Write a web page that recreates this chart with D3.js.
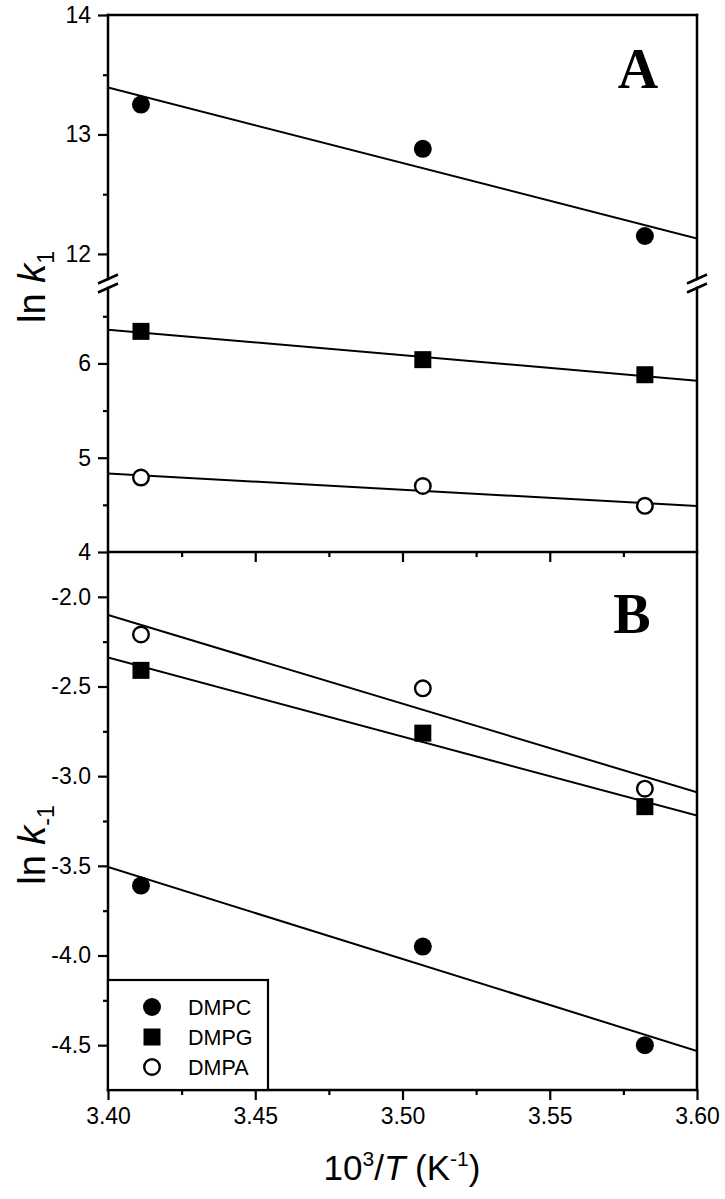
<!DOCTYPE html>
<html>
<head>
<meta charset="utf-8">
<script src="https://cdn.jsdelivr.net/npm/d3@7/dist/d3.min.js"></script>
<style>
  html, body { margin: 0; padding: 0; background: #fff; }
  svg { display: block; }
  text { fill: #000; }
</style>
</head>
<body>
<svg id="chart" width="725" height="1199"></svg>
<script>
// ---------------- data ----------------
const invT = [3.4112, 3.5069, 3.5823];            // 10^3/T (K^-1)
const seriesNames = ["DMPC", "DMPG", "DMPA"];
const lnk1_DMPC = [13.25, 12.88, 12.15];
const lnk1_DMPG = [6.34, 6.04, 5.88];
const lnk1_DMPA = [4.79, 4.70, 4.49];
const lnkm1_DMPC = [-3.61, -3.95, -4.50];
const lnkm1_DMPG = [-2.41, -2.76, -3.17];
const lnkm1_DMPA = [-2.21, -2.51, -3.07];

const xTickValues = [3.40, 3.45, 3.50, 3.55, 3.60];
const xMinorValues = [3.425, 3.475, 3.525, 3.575];
const yTicksAUpper = [12, 13, 14];
const yMinorAUpper = [12.5, 13.5];
const yTicksALower = [4, 5, 6];
const yMinorALower = [4.5, 5.5, 6.5];
const yTicksB = [-2.0, -2.5, -3.0, -3.5, -4.0, -4.5];
const yMinorB = [-2.25, -2.75, -3.25, -3.75, -4.25];

// ---------------- layout ----------------
const L = 108, R = 697;
const topA = 15, botA = 552, botB = 1090;
const breakUpper = 279, breakLower = 288;

const svg = d3.select("#chart");
const x = d3.scaleLinear().domain([3.40, 3.60]).range([L, R]);
const yAU = d3.scaleLinear().domain([11.79, 14]).range([breakUpper, topA]);
const yAL = d3.scaleLinear().domain([4, 6.8]).range([botA, breakLower]);
const yB = d3.scaleLinear().domain([-4.75, -1.75]).range([botB, botA]);

const FONT = "'Liberation Sans', Arial, Helvetica, sans-serif";
const AXW = 2.5, TICKW = 2.2, TICKFS = 23;
const hyph = f => v => f(v).replace("\u2212", "-");

// clip paths
const defs = svg.append("defs");
function clip(id, y0, y1) {
  defs.append("clipPath").attr("id", id).append("rect")
    .attr("x", L).attr("y", y0).attr("width", R - L).attr("height", y1 - y0);
}
clip("cAU", topA, breakUpper);
clip("cAL", breakLower, botA);
clip("cB", botA, botB);

// ---------------- axes ----------------
function styleAxis(g, fs) {
  g.select(".domain").remove();
  g.selectAll("line").attr("stroke", "#000").attr("stroke-width", TICKW);
  g.selectAll("text").attr("font-family", FONT).attr("font-size", fs).attr("fill", "#000");
}
function leftAxis(scale, major, minor, fmt) {
  svg.append("g").attr("transform", `translate(${L},0)`)
    .call(d3.axisLeft(scale).tickValues(major).tickSize(10).tickSizeOuter(0).tickPadding(7).tickFormat(fmt))
    .call(g => styleAxis(g, TICKFS));
  svg.append("g").attr("transform", `translate(${L},0)`)
    .call(d3.axisLeft(scale).tickValues(minor).tickSize(5).tickSizeOuter(0).tickFormat(""))
    .call(g => styleAxis(g, TICKFS));
}
leftAxis(yAU, yTicksAUpper, yMinorAUpper, hyph(d3.format("d")));
leftAxis(yAL, yTicksALower, yMinorALower, hyph(d3.format("d")));
leftAxis(yB, yTicksB, yMinorB, hyph(d3.format(".1f")));

// x axis of panel A (ticks only)
svg.append("g").attr("transform", `translate(0,${botA})`)
  .call(d3.axisBottom(x).tickValues(xTickValues.slice(1, -1)).tickSize(10).tickSizeOuter(0).tickFormat(""))
  .call(g => styleAxis(g, TICKFS));
svg.append("g").attr("transform", `translate(0,${botA})`)
  .call(d3.axisBottom(x).tickValues(xMinorValues).tickSize(5).tickSizeOuter(0).tickFormat(""))
  .call(g => styleAxis(g, TICKFS));
// x axis of panel B
svg.append("g").attr("transform", `translate(0,${botB})`)
  .call(d3.axisBottom(x).tickValues(xTickValues).tickSize(10).tickSizeOuter(0).tickPadding(8).tickFormat(d3.format(".2f")))
  .call(g => styleAxis(g, TICKFS));
svg.append("g").attr("transform", `translate(0,${botB})`)
  .call(d3.axisBottom(x).tickValues(xMinorValues).tickSize(5).tickSizeOuter(0).tickFormat(""))
  .call(g => styleAxis(g, TICKFS));

// frame lines
const frame = svg.append("g").attr("stroke", "#000").attr("stroke-width", AXW).attr("fill", "none").attr("stroke-linecap", "square");
frame.append("line").attr("x1", L).attr("x2", R).attr("y1", topA).attr("y2", topA);
frame.append("line").attr("x1", L).attr("x2", R).attr("y1", botA).attr("y2", botA);
frame.append("line").attr("x1", L).attr("x2", R).attr("y1", botB).attr("y2", botB);
// left & right with break gap in panel A
[L, R].forEach(xx => {
  frame.append("line").attr("x1", xx).attr("x2", xx).attr("y1", topA).attr("y2", breakUpper);
  frame.append("line").attr("x1", xx).attr("x2", xx).attr("y1", breakLower).attr("y2", botB);
  [breakUpper, breakLower].forEach(yy => {
    svg.append("line").attr("x1", xx - 10).attr("x2", xx + 10)
      .attr("y1", yy + 4.5).attr("y2", yy - 4.5)
      .attr("stroke", "#000").attr("stroke-width", 2.5);
  });
});

// ---------------- fits and markers ----------------
function fit(xs, ys) {
  const mx = d3.mean(xs), my = d3.mean(ys);
  const sxy = d3.sum(xs, (v, i) => (v - mx) * (ys[i] - my));
  const sxx = d3.sum(xs, v => (v - mx) * (v - mx));
  const b = sxy / sxx;
  return v => my + b * (v - mx);
}
function drawSeries(ys, yScale, clipId, shape) {
  const f = fit(invT, ys);
  const [x0, x1] = x.domain();
  svg.append("line").attr("clip-path", `url(#${clipId})`)
    .attr("x1", x(x0)).attr("y1", yScale(f(x0)))
    .attr("x2", x(x1)).attr("y2", yScale(f(x1)))
    .attr("stroke", "#000").attr("stroke-width", 2);
  invT.forEach((v, i) => drawMarker(svg, shape, x(v), yScale(ys[i])));
}
function drawMarker(g, shape, px, py) {
  if (shape === "DMPC") {
    g.append("circle").attr("cx", px).attr("cy", py).attr("r", 9).attr("fill", "#000");
  } else if (shape === "DMPG") {
    g.append("rect").attr("x", px - 8.5).attr("y", py - 8.5).attr("width", 17).attr("height", 17).attr("fill", "#000");
  } else {
    g.append("circle").attr("cx", px).attr("cy", py).attr("r", 7.8).attr("fill", "#fff")
      .attr("stroke", "#000").attr("stroke-width", 2.4);
  }
}
drawSeries(lnk1_DMPC, yAU, "cAU", "DMPC");
drawSeries(lnk1_DMPG, yAL, "cAL", "DMPG");
drawSeries(lnk1_DMPA, yAL, "cAL", "DMPA");
drawSeries(lnkm1_DMPA, yB, "cB", "DMPA");
drawSeries(lnkm1_DMPG, yB, "cB", "DMPG");
drawSeries(lnkm1_DMPC, yB, "cB", "DMPC");

// ---------------- legend ----------------
const lg = svg.append("g");
lg.append("rect").attr("x", L).attr("y", 980).attr("width", 268 - L).attr("height", botB - 980)
  .attr("fill", "#fff").attr("stroke", "#000").attr("stroke-width", 2.2);
seriesNames.forEach((name, i) => {
  const yy = 1007 + i * 30;
  drawMarker(lg, name, 152, yy);
  lg.append("text").attr("x", 188).attr("y", yy).attr("dy", "0.36em")
    .attr("font-family", FONT).attr("font-size", 21.5).text(name);
});

// ---------------- panel labels ----------------
svg.append("text").attr("x", 638).attr("y", 88).attr("text-anchor", "middle")
  .attr("font-family", "'Liberation Serif', 'Times New Roman', serif").attr("font-weight", "bold")
  .attr("font-size", 56).text("A");
svg.append("text").attr("x", 632).attr("y", 633).attr("text-anchor", "middle")
  .attr("font-family", "'Liberation Serif', 'Times New Roman', serif").attr("font-weight", "bold")
  .attr("font-size", 56).text("B");

// ---------------- axis titles ----------------
function yTitle(cx, cy, sub) {
  const t = svg.append("text").attr("transform", `translate(${cx},${cy}) rotate(-90)`)
    .attr("text-anchor", "middle").attr("font-family", FONT).attr("font-size", 38);
  t.append("tspan").text("ln ");
  t.append("tspan").attr("font-style", "italic").text("k");
  t.append("tspan").attr("font-size", 23).attr("dy", 9).text(sub);
}
yTitle(45, 287, "1");
yTitle(45, 845, "-1");

const xt = svg.append("text").attr("x", 402).attr("y", 1180).attr("text-anchor", "middle")
  .attr("font-family", FONT).attr("font-size", 35);
xt.append("tspan").text("10");
xt.append("tspan").attr("font-size", 21).attr("dy", -14).text("3");
xt.append("tspan").attr("dy", 14).text("/");
xt.append("tspan").attr("font-style", "italic").text("T");
xt.append("tspan").text(" (K");
xt.append("tspan").attr("font-size", 21).attr("dy", -14).text("-1");
xt.append("tspan").attr("dy", 14).text(")");
</script>
</body>
</html>
